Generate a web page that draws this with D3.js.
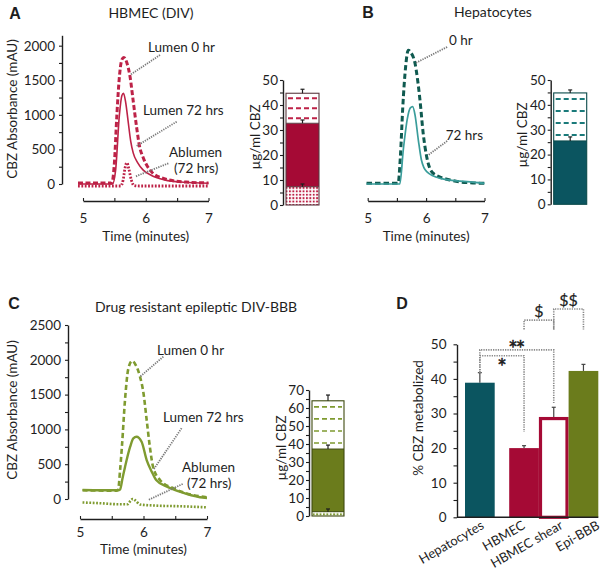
<!DOCTYPE html>
<html><head><meta charset="utf-8">
<script src="https://cdn.jsdelivr.net/npm/d3@7"></script>
<style>
body{margin:0;background:#fff}
svg{display:block}
text{font-family:Lato,"Open Sans",sans-serif;fill:#1e1e1e}
</style>
</head><body>
<svg id="chart" width="603" height="573"></svg>
<script>
// ---------------- DATA ----------------
const timeTicks = [5, 5.5, 6, 6.5, 7];
const absTicksA = [0,250,500,750,1000,1250,1500,1750,2000];
const absTicksC = [0,250,500,750,1000,1250,1500,1750,2000,2250,2500];

// Panel A (HBMEC DIV) chromatograms: [time (min), absorbance (mAU)]
const hbmecLumen0 = [[4.92,15],[5.46,15],[5.5,300],[5.54,1000],[5.58,1550],[5.62,1800],[5.65,1830],[5.7,1750],[5.75,1550],[5.8,1200],[5.85,850],[5.9,550],[5.96,380],[6.03,250],[6.12,150],[6.25,90],[6.45,45],[6.7,25],[7.0,15]];
const hbmecLumen72 = [[4.92,0],[5.47,0],[5.52,200],[5.58,1000],[5.62,1280],[5.645,1312],[5.68,1180],[5.72,900],[5.76,620],[5.8,450],[5.87,310],[5.96,200],[6.1,120],[6.3,60],[6.6,25],[7.0,10]];
const hbmecAblumen72 = [[4.92,-29],[5.6,-29],[5.64,60],[5.67,230],[5.7,308],[5.73,220],[5.77,60],[5.81,-20],[5.9,-29],[7.0,-29]];

// Panel B (Hepatocytes)
const hepLumen0 = [[4.98,10],[5.52,10],[5.56,400],[5.6,1100],[5.65,1700],[5.695,1935],[5.74,1900],[5.81,1745],[5.895,1215],[5.95,733],[6.01,395],[6.12,155],[6.41,58],[6.7,20],[7.0,10]];
const hep72 = [[4.98,0],[5.55,0],[5.61,500],[5.68,950],[5.73,1100],[5.77,1118],[5.81,1000],[5.867,636],[5.92,347],[6.01,178],[6.24,82],[6.7,33],[7.0,10]];

// Panel C (Drug resistant epileptic DIV-BBB)
const epiLumen0 = [[5.04,125],[5.58,120],[5.6,130],[5.63,400],[5.66,751],[5.71,1437],[5.76,1868],[5.82,1983],[5.88,1920],[5.945,1757],[6.0,1519],[6.05,1135],[6.1,751],[6.15,464],[6.26,273],[6.47,154],[6.78,57],[7.0,24]];
const epiLumen72 = [[5.04,130],[5.6,125],[5.63,135],[5.67,300],[5.71,464],[5.79,751],[5.84,872],[5.89,895],[5.97,823],[6.05,560],[6.13,392],[6.2,273],[6.37,177],[6.57,105],[6.89,25],[7.0,15]];
const epiAblumen72 = [[5.04,-50],[5.3,-60],[5.6,-75],[5.75,-75],[5.8,-20],[5.83,0],[5.87,-20],[5.95,-80],[6.2,-95],[6.6,-105],[7.0,-120]];

// Stacked CBZ bars (µg/ml): segment boundaries and error above each segment top
const barAsegs = [0, 7.3, 32.7, 44.7];
const barAerrs = [1.1, 1.3, 1.6];
const barAkinds = ["dots", "solid", "dashes"];
const barBsegs = [0, 25.5, 44.8];
const barBerrs = [1.6, 1.2];
const barBkinds = ["solid", "dashes"];
const barCsegs = [0, 2.4, 37.2, 64];
const barCerrs = [1.5, 2.2, 3.2];
const barCkinds = ["dots", "solid", "dashes"];
const barTicks50 = [0,5,10,15,20,25,30,35,40,45,50];
const barTicks70 = [0,5,10,15,20,25,30,35,40,45,50,55,60,65,70];

// Panel D (% CBZ metabolized)
const dCats = ["Hepatocytes", "HBMEC", "HBMEC shear", "Epi-BBB"];
const dVals = [38.9, 20.0, 29.0, 42.3];
const dErrs = [2.9, 0.7, 2.8, 1.9];
const dTicks = [0,5,10,15,20,25,30,35,40,45,50];
// significance brackets
const dSig = [
  {a:"Hepatocytes", b:"HBMEC", level:46.7, aEnd:41.8, bEnd:24.7, label:"*", side:1},
  {a:"Hepatocytes", b:"HBMEC shear", level:48.4, aEnd:41.8, bEnd:33.0, label:"**", side:-1},
  {a:"HBMEC", b:"HBMEC shear", level:57.0, aEnd:54.3, bEnd:54.3, label:"$", side:-1},
  {a:"HBMEC shear", b:"Epi-BBB", level:60.2, aEnd:54.3, bEnd:54.3, label:"$$", side:-1}
];

// ---------------- COLOURS / LAYOUT ----------------
const crimson = "#a50a35", crimsonLine = "#bd2247";
const tealBar = "#0b5560", tealDash = "#0f5a50", tealSolid = "#3a9d9b";
const olive = "#6b7c1c", oliveLine = "#7f9b30";
const ink = "#1e1e1e";
const dLabelShift = [5, 2, 10, 17];

const svg = d3.select("#chart");
const defs = svg.append("defs");
function dotPattern(id, col) {
  const p = defs.append("pattern").attr("id", id).attr("patternUnits","userSpaceOnUse")
    .attr("width", 3.4).attr("height", 3.4);
  p.append("rect").attr("width",3.4).attr("height",3.4).attr("fill","#fff");
  p.append("rect").attr("width",1.9).attr("height",1.9).attr("fill",col);
}
dotPattern("dotsA", crimsonLine);
dotPattern("dotsC", oliveLine);

function styleAxis(g, fs) {
  g.selectAll(".domain").attr("stroke", ink).attr("stroke-width", 1.4);
  g.selectAll(".tick line").attr("stroke", ink).attr("stroke-width", 1.1);
  g.selectAll(".tick text").attr("fill", ink).style("font-size", (fs||13.5) + "px")
    .style("font-family", 'Lato,"Open Sans",sans-serif');
}

// text helper: rotated texts are placed inside a translated + rotated group
function txt(x, y, s, opts) {
  opts = opts || {};
  const holder = svg.append("g")
    .attr("transform", `translate(${x},${y})` + (opts.rotate ? ` rotate(${opts.rotate})` : ""));
  const t = holder.append("text").attr("x", 0).attr("y", 0).text(s)
    .attr("text-anchor", opts.anchor || "start")
    .attr("dy", opts.dy || "0.35em")
    .style("font-size", (opts.size || 13) + "px");
  if (opts.bold) t.style("font-weight", "bold").style("font-family", '"Liberation Sans",Arial,sans-serif');
  if (opts.family) t.style("font-family", opts.family);
  return t;
}

// ---------------- CHROMATOGRAM PANELS ----------------
function chromPanel(o) {
  const x = d3.scaleLinear().domain([5, 7]).range([o.x5, o.x7]);
  const y = d3.scaleLinear().domain([0, o.yMax]).range([o.y0, o.yTop]);
  const g = svg.append("g");
  const xa = g.append("g").attr("transform", `translate(0,${o.xAxisY})`)
    .call(d3.axisBottom(x).tickValues(timeTicks).tickSize(-3).tickSizeOuter(0).tickPadding(o.xPad)
      .tickFormat(d => Number.isInteger(d) ? d : ""));
  styleAxis(xa);
  if (o.yAxisX != null) {
    const ya = g.append("g").attr("transform", `translate(${o.yAxisX},0)`)
      .call(d3.axisLeft(y).tickValues(o.yTicks).tickSize(3).tickSizeOuter(0).tickPadding(4)
        .tickFormat(d => d % 500 === 0 ? d : ""));
    styleAxis(ya);
  }
  const line = d3.line().x(d => x(d[0])).y(d => y(d[1])).curve(d3.curveMonotoneX);
  o.series.forEach(s => {
    g.append("path").datum(s.data).attr("d", line).attr("fill", "none")
      .attr("stroke", s.color).attr("stroke-width", s.width)
      .attr("stroke-dasharray", s.dash || null).attr("stroke-linejoin", "round");
  });
  o.leaders.forEach(l => {
    g.append("line").attr("x1", x(l[0])).attr("y1", y(l[1])).attr("x2", x(l[2])).attr("y2", y(l[3]))
      .attr("stroke", "#7a7a7a").attr("stroke-width", 1.8).attr("stroke-dasharray", "1.3,1.1");
  });
  o.labels.forEach(l => txt(x(l.t), y(l.v), l.text, {size: 13.5}));
  txt((o.x5 + o.x7) / 2, o.xTitleY, "Time (minutes)", {anchor: "middle", size: 13.5});
}

chromPanel({
  x5: 83, x7: 208.5, y0: 184, yTop: 35.3, yMax: 2150, xAxisY: 201, yAxisX: 62, yTicks: absTicksA,
  xTitleY: 236, xPad: 12,
  series: [
    {data: hbmecLumen0, color: crimsonLine, width: 3, dash: "5,2.5"},
    {data: hbmecLumen72, color: crimsonLine, width: 1.6},
    {data: hbmecAblumen72, color: crimsonLine, width: 2.8, dash: "1.8,1.6"}
  ],
  leaders: [[6.227,1865,5.749,1576],[6.493,901,5.856,550],[6.36,299,5.829,106]],
  labels: [{text:"Lumen 0 hr", t:6.036, v:1981}, {text:"Lumen 72 hrs", t:5.956, v:1070},
           {text:"Ablumen", t:6.37, v:463}, {text:"(72 hrs)", t:6.45, v:231}]
});

chromPanel({
  x5: 367.7, x7: 484.5, y0: 184, yTop: 35.3, yMax: 2150, xAxisY: 201, yAxisX: null,
  xTitleY: 236, xPad: 12,
  series: [
    {data: hepLumen0, color: tealDash, width: 3, dash: "5.5,3"},
    {data: hep72, color: tealSolid, width: 1.7}
  ],
  leaders: [[6.36,1981,5.81,1745],[6.36,621,6.038,419]],
  labels: [{text:"0 hr", t:6.392, v:2072}, {text:"72 hrs", t:6.336, v:709}]
});

chromPanel({
  x5: 80, x7: 207, y0: 499, yTop: 325, yMax: 2500, xAxisY: 519, yAxisX: 68, yTicks: absTicksC,
  xTitleY: 549, xPad: 8,
  series: [
    {data: epiLumen0, color: oliveLine, width: 2.6, dash: "5,3"},
    {data: epiLumen72, color: oliveLine, width: 2.4},
    {data: epiAblumen72, color: oliveLine, width: 2.6, dash: "1.8,1.6"}
  ],
  leaders: [[6.312,2045,5.945,1757],[6.60,1016,6.154,417],[6.617,216,6.076,-14]],
  labels: [{text:"Lumen 0 hr", t:6.213, v:2141}, {text:"Lumen 72 hrs", t:6.307, v:1178},
           {text:"Ablumen", t:6.606, v:460}, {text:"(72 hrs)", t:6.685, v:230}]
});

// ---------------- STACKED BAR PANELS ----------------
function stackPanel(o) {
  const y = d3.scaleLinear().domain([0, o.max]).range([o.y0, o.yTop]);
  const x = d3.scaleBand().domain(["CBZ"]).range([o.axisX + 3, o.axisX + 3 + o.w]).padding(0);
  const g = svg.append("g");
  const ya = g.append("g").attr("transform", `translate(${o.axisX},0)`)
    .call(d3.axisLeft(y).tickValues(o.ticks).tickSize(3).tickSizeOuter(0).tickPadding(2)
      .tickFormat(d => d % 10 === 0 ? d : ""));
  styleAxis(ya);
  const bx = x("CBZ"), bw = x.bandwidth();
  const segs = o.segs;
  o.kinds.forEach((k, i) => {
    const lo = segs[i], hi = segs[i + 1];
    const fill = k === "solid" ? o.color : (k === "dots" ? `url(#${o.dots})` : "#fff");
    g.append("rect").attr("x", bx).attr("y", y(hi)).attr("width", bw).attr("height", y(lo) - y(hi))
      .attr("fill", fill);
    if (k === "dashes") {
      const n = o.nDash;
      for (let j = 0; j < n; j++) {
        const v = lo + (j + 0.5) * (hi - lo) / n;
        g.append("line").attr("x1", bx + 2).attr("x2", bx + bw - 2).attr("y1", y(v)).attr("y2", y(v))
          .attr("stroke", o.dashColor).attr("stroke-width", o.dashW).attr("stroke-dasharray", "5,3");
      }
    }
    if (i > 0) {
      g.append("line").attr("x1", bx).attr("x2", bx + bw).attr("y1", y(lo)).attr("y2", y(lo))
        .attr("stroke", o.edge).attr("stroke-width", 1);
    }
  });
  g.append("rect").attr("x", bx).attr("y", y(segs[segs.length - 1])).attr("width", bw)
    .attr("height", y(0) - y(segs[segs.length - 1])).attr("fill", "none").attr("stroke", o.edge).attr("stroke-width", 1.1);
  o.errs.forEach((e, i) => {
    const top = segs[i + 1], cx = bx + bw / 2;
    g.append("line").attr("x1", cx).attr("x2", cx).attr("y1", y(top)).attr("y2", y(top + e))
      .attr("stroke", ink).attr("stroke-width", 1.2);
    g.append("line").attr("x1", cx - 2).attr("x2", cx + 2).attr("y1", y(top + e)).attr("y2", y(top + e))
      .attr("stroke", ink).attr("stroke-width", 1.2);
  });
  txt(o.labelX, o.labelY, "µg/ml CBZ", {anchor: "middle", rotate: -90, size: 13.5});
}

stackPanel({axisX: 283, y0: 205, yTop: 80, max: 50, ticks: barTicks50, w: 33, segs: barAsegs, errs: barAerrs,
  kinds: barAkinds, color: crimson, dots: "dotsA", dashColor: crimsonLine, dashW: 2, nDash: 3, edge: "#5a3a40",
  labelX: 255, labelY: 137});
stackPanel({axisX: 550.7, y0: 204.3, yTop: 80, max: 50, ticks: barTicks50, w: 33, segs: barBsegs, errs: barBerrs,
  kinds: barBkinds, color: tealBar, dots: "dotsA", dashColor: "#1a7a7a", dashW: 2, nDash: 4, edge: "#0b4a4a",
  labelX: 522, labelY: 135});
stackPanel({axisX: 309, y0: 516, yTop: 390, max: 70, ticks: barTicks70, w: 32, segs: barCsegs, errs: barCerrs,
  kinds: barCkinds, color: olive, dots: "dotsC", dashColor: oliveLine, dashW: 1.6, nDash: 4, edge: "#3e4a10",
  labelX: 281, labelY: 448});

// ---------------- PANEL D ----------------
(function () {
  const y = d3.scaleLinear().domain([0, 50]).range([517.3, 344.3]);
  const x = d3.scaleBand().domain(dCats).range([465, 465 + 4 * 29.7]).padding(0);
  const gap = 14.5;
  const bx = c => x(c) + (dCats.indexOf(c) > 0 ? gap : 0);
  const bw = x.bandwidth();
  const cx = c => bx(c) + bw / 2;
  const fills = [tealBar, crimson, "#fff", olive];
  const g = svg.append("g");
  dCats.forEach((c, i) => {
    const v = dVals[i];
    if (c === "HBMEC shear") {
      g.append("rect").attr("x", bx(c) + 1.6).attr("y", y(v) + 1.6).attr("width", bw - 3.2)
        .attr("height", y(0) - y(v) - 1.6).attr("fill", "#fff").attr("stroke", crimson).attr("stroke-width", 3.2);
    } else {
      g.append("rect").attr("x", bx(c)).attr("y", y(v)).attr("width", bw).attr("height", y(0) - y(v))
        .attr("fill", fills[i]);
    }
    const e = dErrs[i];
    g.append("line").attr("x1", cx(c)).attr("x2", cx(c)).attr("y1", y(v)).attr("y2", y(v + e))
      .attr("stroke", "#444").attr("stroke-width", 1.2);
    g.append("line").attr("x1", cx(c) - 2).attr("x2", cx(c) + 2).attr("y1", y(v + e)).attr("y2", y(v + e))
      .attr("stroke", "#444").attr("stroke-width", 1.2);
    txt(cx(c) + dLabelShift[i], 528, c, {anchor: "end", rotate: -30, size: 13, dy: "0"});
  });
  const ya = g.append("g").attr("transform", "translate(457,0)")
    .call(d3.axisLeft(y).tickValues(dTicks).tickSize(3.5).tickSizeOuter(0).tickPadding(7)
      .tickFormat(d => d % 10 === 0 ? d : ""));
  styleAxis(ya);
  g.append("line").attr("x1", 457).attr("x2", 598.3).attr("y1", y(0)).attr("y2", y(0))
    .attr("stroke", ink).attr("stroke-width", 1.4);
  dSig.forEach(s => {
    const xa = cx(s.a), xb = cx(s.b);
    g.append("path").attr("d", `M${xa},${y(s.aEnd)}V${y(s.level)}H${xb}V${y(s.bEnd)}`)
      .attr("fill", "none").attr("stroke", "#8a8a8a").attr("stroke-width", 1.6).attr("stroke-dasharray", "1.3,1.1");
    const isStar = s.label.indexOf("*") >= 0;
    const t = txt((xa + xb) / 2, y(s.level) + s.side * (isStar ? 6 : 8.5) + (isStar ? 3 : 0), s.label,
      {anchor: "middle", size: isStar ? 15 : 16, family: isStar ? '"DejaVu Sans",sans-serif' : null});
    t.style("fill", ink).style("stroke", ink).style("stroke-width", isStar ? 0.6 : 0.2);
  });
  txt(418, 418, "% CBZ metabolized", {anchor: "middle", rotate: -90, size: 13.5});
})();

// ---------------- TITLES & PANEL LETTERS ----------------
txt(15, 13, "A", {anchor: "middle", size: 16, bold: true});
txt(151, 13, "HBMEC (DIV)", {anchor: "middle", size: 14});
txt(368, 12, "B", {anchor: "middle", size: 16, bold: true});
txt(493, 12, "Hepatocytes", {anchor: "middle", size: 14});
txt(14, 303, "C", {anchor: "middle", size: 16, bold: true});
txt(196, 307, "Drug resistant epileptic DIV-BBB", {anchor: "middle", size: 14});
txt(402, 303, "D", {anchor: "middle", size: 16, bold: true});
txt(12, 109, "CBZ Absorbance (mAU)", {anchor: "middle", rotate: -90, size: 13.5});
txt(12, 410, "CBZ Absorbance (mAU)", {anchor: "middle", rotate: -90, size: 13.5});
</script>
</body></html>
